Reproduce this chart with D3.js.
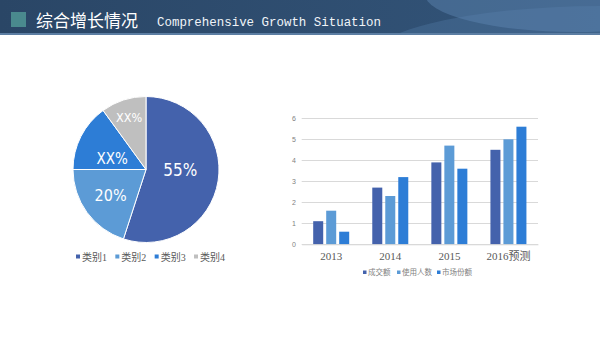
<!DOCTYPE html>
<html><head><meta charset="utf-8">
<script src="https://cdn.jsdelivr.net/npm/d3@7"></script>
<style>html,body{margin:0;padding:0;background:#fff;}svg{display:block;}</style>
</head><body>
<svg id="c" width="600" height="338"></svg>
<script>
// ---- data ----
const pieCategories = ["类别1", "类别2", "类别3", "类别4"];
const pieValues = [55, 20, 15, 10];
const pieLabels = ["55%", "20%", "XX%", "XX%"];
const years = ["2013", "2014", "2015", "2016预测"];
const seriesNames = ["成交额", "使用人数", "市场份额"];
const seriesA = [1.1, 2.7, 3.9, 4.5];
const seriesB = [1.6, 2.3, 4.7, 5.0];
const seriesC = [0.6, 3.2, 3.6, 5.6];
const yTicks = [0, 1, 2, 3, 4, 5, 6];

const pieColors = ["#4462ac", "#5c9bd6", "#2d7dd6", "#bfbfbf"];
const barColors = ["#4462ac", "#5c9bd6", "#2d7dd6"];

const svg = d3.select("#c");
const serif = "'Liberation Serif','DejaVu Serif','Noto Sans CJK SC',serif";
const cjk = "'Noto Sans CJK SC','Liberation Serif',serif";

// ---- header ----
const defs = svg.append("defs");
const hg = defs.append("linearGradient").attr("id", "hg").attr("x1", 0).attr("x2", 1).attr("y1", 0).attr("y2", 0);
hg.append("stop").attr("offset", "0").attr("stop-color", "#2a4666");
hg.append("stop").attr("offset", "1").attr("stop-color", "#33557a");
defs.append("clipPath").attr("id", "hc").append("rect").attr("width", 600).attr("height", 34);
svg.append("rect").attr("width", 600).attr("height", 34).attr("fill", "url(#hg)");
const hgrp = svg.append("g").attr("clip-path", "url(#hc)");
hgrp.append("ellipse").attr("cx", 600).attr("cy", 66).attr("rx", 240).attr("ry", 60).attr("fill", "#4f77a3").attr("opacity", 0.4);
hgrp.append("ellipse").attr("cx", 575).attr("cy", -6).attr("rx", 150).attr("ry", 38).attr("fill", "#6088b3").attr("opacity", 0.45);
svg.append("rect").attr("y", 33).attr("width", 600).attr("height", 2).attr("fill", "#5c7ea3");
svg.append("rect").attr("x", 11).attr("y", 12).attr("width", 15).attr("height", 15).attr("fill", "#4a8a8e");
svg.append("text").attr("x", 36).attr("y", 27).attr("font-family", cjk).attr("font-size", 17)
  .attr("fill", "#fff").text("综合增长情况");
svg.append("text").attr("x", 157).attr("y", 26).attr("font-family", "'Liberation Mono','DejaVu Sans Mono',monospace")
  .attr("font-size", 12.5).attr("fill", "#f0f4f8").attr("textLength", 224).attr("lengthAdjust", "spacingAndGlyphs")
  .text("Comprehensive Growth Situation");

// ---- pie ----
const cx = 146, cy = 169.5, R = 73;
const pie = d3.pie().sort(null).value(d => d)(pieValues);
const arc = d3.arc().innerRadius(0).outerRadius(R);
const pg = svg.append("g").attr("transform", `translate(${cx},${cy})`);
pg.selectAll("path").data(pie).join("path").attr("d", arc)
  .attr("fill", (d, i) => pieColors[i]).attr("stroke", "#fff").attr("stroke-width", 1);
const labelR = [0.47, 0.6, 0.52, 0.75];
const labelSize = [17, 16, 15, 12.5];
pg.selectAll("text").data(pie).join("text")
  .attr("transform", (d, i) => {
    const a = (d.startAngle + d.endAngle) / 2 - (i === 0 ? 0.15 : 0);
    const r = R * labelR[i];
    return `translate(${r * Math.sin(a)},${-r * Math.cos(a) + (i === 2 ? 6 : 0)})`;
  })
  .attr("text-anchor", "middle").attr("dy", "0.35em")
  .attr("font-family", "'DejaVu Sans Condensed','DejaVu Sans',sans-serif")
  .attr("font-stretch", "condensed").attr("font-weight", 300)
  .attr("font-size", (d, i) => labelSize[i]).attr("fill", "#fff")
  .text((d, i) => pieLabels[i]);

// pie legend
const pLegX = d3.scalePoint().domain(pieCategories).range([76, 194]);
const pl = svg.append("g").selectAll("g").data(pieCategories).join("g")
  .attr("transform", d => `translate(${pLegX(d)},257)`);
pl.append("rect").attr("x", 0).attr("y", -2.5).attr("width", 4).attr("height", 4).attr("fill", (d, i) => pieColors[i]);
pl.append("text").attr("x", 6).attr("y", 3.5).attr("font-family", serif).attr("font-size", 10)
  .attr("fill", "#595959").text(d => d);

// ---- bar chart ----
const x0 = d3.scaleBand().domain(years).range([301.7, 538]);
const x1 = d3.scaleBand().domain(seriesNames).range([11.5, 47.5]).paddingInner(0.23);
const y = d3.scaleLinear().domain([0, 6]).range([244.3, 118.3]);
const series = [seriesA, seriesB, seriesC];

const grid = svg.append("g");
grid.selectAll("line").data(yTicks).join("line")
  .attr("x1", x0.range()[0]).attr("x2", x0.range()[1])
  .attr("y1", d => Math.round(y(d)) + 0.5).attr("y2", d => Math.round(y(d)) + 0.5)
  .attr("stroke", "#d9d9d9").attr("stroke-width", 1);

const yAxis = svg.append("g").attr("transform", "translate(296,0)")
  .call(d3.axisLeft(y).tickValues(yTicks).tickFormat(d3.format("d")).tickSize(0).tickPadding(0));
yAxis.select(".domain").remove();
yAxis.selectAll("text").attr("font-family", "'Liberation Sans',sans-serif").attr("font-size", 7).attr("fill", "#7f7f7f");

const groups = svg.append("g").selectAll("g").data(years).join("g")
  .attr("transform", d => `translate(${x0(d)},0)`);
groups.selectAll("rect").data((d, i) => seriesNames.map((s, k) => ({ s, v: series[k][i], k })))
  .join("rect")
  .attr("x", d => x1(d.s)).attr("width", x1.bandwidth())
  .attr("y", d => y(d.v)).attr("height", d => y(0) - y(d.v))
  .attr("fill", d => barColors[d.k]);

const xAxis = svg.append("g").attr("transform", `translate(0,${y(0)})`)
  .call(d3.axisBottom(x0).tickSize(0).tickPadding(8));
xAxis.select(".domain").attr("stroke", "#d9d9d9");
xAxis.selectAll("text").attr("font-family", serif).attr("font-size", 11).attr("fill", "#595959");

// bar legend
const bLegX = [363, 397, 437];
const bl = svg.append("g").selectAll("g").data(seriesNames).join("g")
  .attr("transform", (d, i) => `translate(${bLegX[i]},272.5)`);
bl.append("rect").attr("x", 0).attr("y", -2).attr("width", 3.5).attr("height", 3.5).attr("fill", (d, i) => barColors[i]);
bl.append("text").attr("x", 5).attr("y", 2.5).attr("font-family", serif).attr("font-size", 7.5)
  .attr("fill", "#7f7f7f").text(d => d);
</script>
</body></html>
